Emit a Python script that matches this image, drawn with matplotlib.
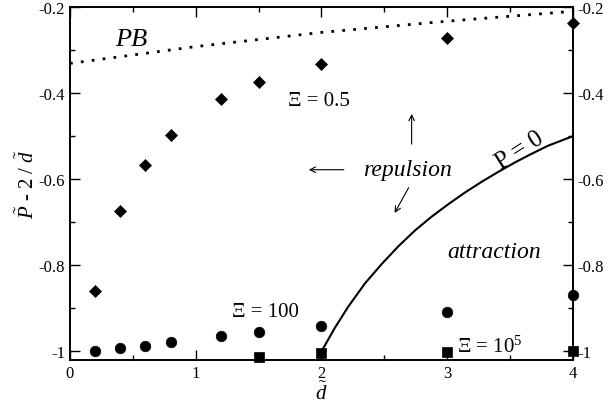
import matplotlib
matplotlib.use('Agg')
import matplotlib.pyplot as plt
from matplotlib.ticker import MultipleLocator, FuncFormatter

plt.rcParams['font.family'] = ['Liberation Serif', 'DejaVu Serif']
plt.rcParams['mathtext.fontset'] = 'custom'
plt.rcParams['mathtext.rm'] = 'Liberation Serif'
plt.rcParams['mathtext.it'] = 'Liberation Serif:italic'
plt.rcParams['axes.unicode_minus'] = False

# Xi = 0.5 (diamonds)
d_low = [0.2, 0.4, 0.6, 0.8, 1.2, 1.5, 2.0, 3.0, 4.0]
p_low = [-0.859, -0.673, -0.566, -0.497, -0.413, -0.375, -0.333, -0.271, -0.237]

# Xi = 100 (circles)
d_mid = [0.2, 0.4, 0.6, 0.8, 1.2, 1.5, 2.0, 3.0, 4.0]
p_mid = [-1.0, -0.991, -0.987, -0.979, -0.964, -0.954, -0.940, -0.909, -0.868]

# Xi = 1e5 (squares)
d_high = [1.5, 2.0, 3.0, 4.0]
p_high = [-1.013, -1.003, -1.001, -0.999]

# Poisson-Boltzmann limit
d_pb = [0.0, 1.0, 2.0, 3.0, 4.0]
p_pb = [-0.331, -0.292, -0.259, -0.233, -0.210]

# P = 0 boundary
d_zero = [2.0, 2.107, 2.213, 2.346, 2.479, 2.611, 2.744, 2.876,
          3.009, 3.141, 3.274, 3.406, 3.539, 3.671, 3.804, 4.0]
p_zero = [-1.0, -0.945, -0.896, -0.842, -0.797, -0.756, -0.719, -0.687,
          -0.658, -0.631, -0.606, -0.583, -0.561, -0.541, -0.522, -0.500]

fig = plt.figure(figsize=(6.08, 4.10), dpi=100)
ax = fig.add_axes([0.1151, 0.1195, 0.8273, 0.861])

ax.plot(d_pb, p_pb, color='black', lw=2.0, linestyle=(0, (1, 2.95)))
ax.plot(d_zero, p_zero, color='black', lw=1.5)
ax.plot(d_low, p_low, 'D', color='black', ms=5.8, mew=0.5, clip_on=False)
ax.plot(d_mid, p_mid, 'o', color='black', ms=7.6, mew=0.5, clip_on=False)
ax.plot(d_high, p_high, 's', color='black', ms=6.6, mew=0.5, clip_on=False)

ax.set_xlim(0, 4)
ax.set_ylim(-1.02, -0.2)
ax.xaxis.set_major_locator(MultipleLocator(1))
ax.xaxis.set_minor_locator(MultipleLocator(0.5))
ax.yaxis.set_major_locator(MultipleLocator(0.2))
ax.yaxis.set_minor_locator(MultipleLocator(0.1))
fmt = FuncFormatter(lambda v, p: f'{v:g}')
ax.xaxis.set_major_formatter(fmt)
ax.yaxis.set_major_formatter(fmt)
ax.tick_params(which='both', direction='in', top=True, right=True,
               labelright=True, labelsize=12, width=1)
ax.tick_params(which='major', length=7)
ax.tick_params(which='minor', length=3.5)
for s in ax.spines.values():
    s.set_linewidth(1.4)

ax.set_xlabel(r'$\tilde{d}$', fontsize=15, labelpad=0)
ax.set_ylabel(r'$\tilde{P}$ - 2 / $\tilde{d}$', fontsize=15, labelpad=0)

ax.text(0.358, -0.289, 'PB', fontsize=19, style='italic')
ax.text(1.734, -0.427, 'Ξ = 0.5', fontsize=15)
ax.text(1.288, -0.918, 'Ξ = 100', fontsize=15)
ax.text(3.08, -1.0, r'Ξ = 10$^5$', fontsize=15)
ax.text(2.33, -0.591, 'repulsion', fontsize=17, style='italic')
ax.text(3.0, -0.781, 'attraction', fontsize=17, style='italic')
ax.text(3.578, -0.531, 'P = 0', fontsize=18, rotation=32.6,
        ha='center', va='center', rotation_mode='anchor')

arrow = dict(arrowstyle='->', color='black', lw=0.8)
ax.annotate('', xy=(1.877, -0.578), xytext=(2.20, -0.578), arrowprops=arrow)
ax.annotate('', xy=(2.717, -0.442), xytext=(2.717, -0.525), arrowprops=arrow)
ax.annotate('', xy=(2.571, -0.684), xytext=(2.704, -0.614), arrowprops=arrow)

fig.savefig('out.png', dpi=100)
